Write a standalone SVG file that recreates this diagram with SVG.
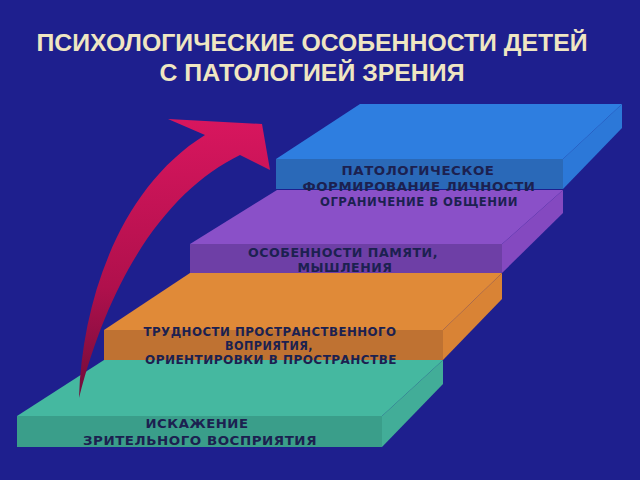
<svg xmlns="http://www.w3.org/2000/svg" width="640" height="480" viewBox="0 0 640 480">
<defs>
<linearGradient id="arrowGrad" gradientUnits="userSpaceOnUse" x1="0" y1="120" x2="0" y2="398">
<stop offset="0" stop-color="#d8165e"/>
<stop offset="0.6" stop-color="#b0104c"/>
<stop offset="1" stop-color="#700c3a"/>
</linearGradient>
<style>
.title{font-family:"Liberation Sans",Arial,sans-serif;font-weight:bold;font-size:23px;fill:#efe6c2;text-anchor:middle}
.lbl{font-family:"DejaVu Sans","Liberation Sans",sans-serif;font-weight:bold;font-size:12.5px;fill:#1c2150;text-anchor:middle;letter-spacing:0.5px}
</style>
</defs>
<rect width="640" height="480" fill="#1e1f8e"/>
<g id="title">
<text class="title" x="312" y="51" textLength="551" lengthAdjust="spacingAndGlyphs">ПСИХОЛОГИЧЕСКИЕ ОСОБЕННОСТИ ДЕТЕЙ</text>
<text class="title" x="312" y="81" textLength="305" lengthAdjust="spacingAndGlyphs">С ПАТОЛОГИЕЙ ЗРЕНИЯ</text>
</g>
<g id="step-teal">
<polygon points="104,360 443,360 382,416 17,416" fill="#45b8a0"/>
<polygon points="382,416 443,360 443,384 382,447" fill="#42ad98"/>
<rect x="17" y="416" width="365" height="31" fill="#3a9e8a"/>
</g>
<g id="step-orange">
<polygon points="190,273 502,273 443,330 104,330" fill="#e08a38"/>
<polygon points="443,330 502,273 502,299 443,360" fill="#d98335"/>
<rect x="104" y="330" width="339" height="30" fill="#bf7232"/>
</g>
<g id="step-purple">
<polygon points="277,190 563,190 502,244 190,244" fill="#8a50c8"/>
<polygon points="502,244 563,190 563,213 502,273" fill="#8449c0"/>
<rect x="190" y="244" width="312" height="29" fill="#6e3fa6"/>
</g>
<g id="step-blue">
<polygon points="360,104 622,104 563,159 276,159" fill="#2e7ee0"/>
<polygon points="563,159 622,104 622,128 563,189" fill="#2c78d8"/>
<rect x="276" y="159" width="287" height="30" fill="#2a69b8"/>
</g>
<g id="connectors">
<path d="M 79,398 C 82,300 120,188 205,135 L 168,119 L 262,124 L 270,170 L 240,155 C 172,188 112,268 79,398 Z" fill="url(#arrowGrad)"/>
</g>
<g id="labels">
<text class="lbl" x="418" y="175" textLength="153" lengthAdjust="spacingAndGlyphs">ПАТОЛОГИЧЕСКОЕ</text>
<text class="lbl" x="419" y="191" textLength="233" lengthAdjust="spacingAndGlyphs">ФОРМИРОВАНИЕ ЛИЧНОСТИ</text>
<text class="lbl" x="419" y="206" textLength="198" lengthAdjust="spacingAndGlyphs" style="font-size:11.5px">ОГРАНИЧЕНИЕ В ОБЩЕНИИ</text>
<text class="lbl" x="343" y="257" textLength="190" lengthAdjust="spacingAndGlyphs">ОСОБЕННОСТИ ПАМЯТИ,</text>
<text class="lbl" x="345" y="272" textLength="95" lengthAdjust="spacingAndGlyphs">МЫШЛЕНИЯ</text>
<text class="lbl" x="270" y="336" textLength="253" lengthAdjust="spacingAndGlyphs">ТРУДНОСТИ ПРОСТРАНСТВЕННОГО</text>
<text class="lbl" x="269" y="350" textLength="88" lengthAdjust="spacingAndGlyphs">ВОПРИЯТИЯ,</text>
<text class="lbl" x="271" y="364" textLength="252" lengthAdjust="spacingAndGlyphs">ОРИЕНТИРОВКИ В ПРОСТРАНСТВЕ</text>
<text class="lbl" x="197" y="428" textLength="103" lengthAdjust="spacingAndGlyphs">ИСКАЖЕНИЕ</text>
<text class="lbl" x="200" y="445" textLength="234" lengthAdjust="spacingAndGlyphs">ЗРИТЕЛЬНОГО ВОСПРИЯТИЯ</text>
</g>
</svg>
